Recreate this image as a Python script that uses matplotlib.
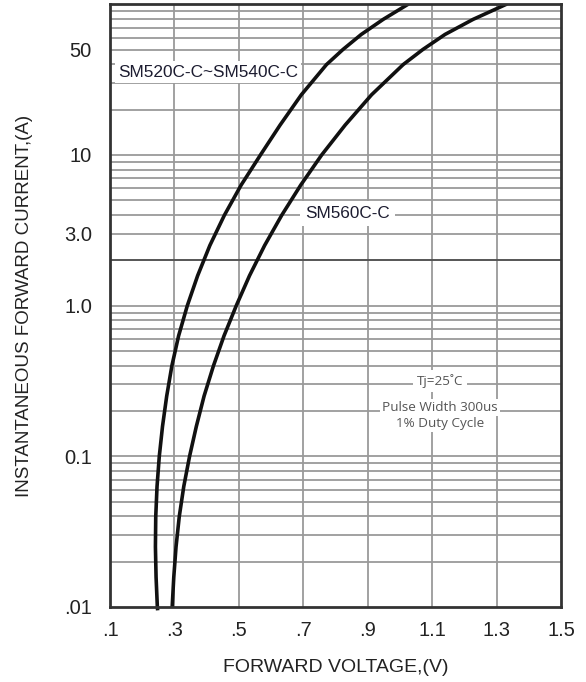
import numpy as np
import matplotlib
matplotlib.use("Agg")
import matplotlib.pyplot as plt
from matplotlib.ticker import FixedLocator, NullFormatter

# ---- data ----
i_levels = [0.0095, 0.01, 0.0158, 0.0251, 0.0398, 0.0631, 0.1, 0.158, 0.251, 0.398, 0.631,
            1.0, 1.58, 2.51, 3.98, 6.31, 10.0, 15.8, 25.1, 39.8, 50.1, 63.1, 79.4, 100.0]

v_sm520_540 = [0.248, 0.247, 0.243, 0.241, 0.242, 0.246, 0.253, 0.263, 0.276, 0.292, 0.313,
               0.340, 0.372, 0.410, 0.455, 0.507, 0.567, 0.628, 0.694, 0.772, 0.823, 0.880,
               0.948, 1.025]

i_sm560 = i_levels[1:]
v_sm560 = [0.293, 0.298, 0.305, 0.315, 0.329, 0.347, 0.368, 0.392, 0.421, 0.454,
           0.492, 0.533, 0.580, 0.633, 0.692, 0.757, 0.830, 0.912, 1.010, 1.071, 1.140,
           1.227, 1.330]

x_ticks = [0.1, 0.3, 0.5, 0.7, 0.9, 1.1, 1.3, 1.5]
x_ticklabels = [".1", ".3", ".5", ".7", ".9", "1.1", "1.3", "1.5"]
y_ticks = [0.01, 0.1, 1.0, 3.0, 10, 50]
y_ticklabels = [".01", "0.1", "1.0", "3.0", "10", "50"]

plt.rcParams['font.family'] = ['Liberation Sans', 'DejaVu Sans']

fig = plt.figure(figsize=(5.86, 6.82), dpi=100)
ax = fig.add_axes([110/586, 1-607/682, 451/586, (607-4.3)/682])
ax.set_yscale('log')
ax.set_xlim(0.1, 1.5)
ax.set_ylim(0.01, 100)

# grid
grid_c = '#9a9a9a'
for x in x_ticks[1:-1]:
    ax.axvline(x, color=grid_c, lw=1.3, zorder=1)
for dec in [0.01, 0.1, 1, 10]:
    for k in range(2, 10):
        val = dec * k
        if abs(val - 2.0) < 1e-9:
            ax.axhline(val, color='#555555', lw=1.4, zorder=1)
        else:
            ax.axhline(val, color=grid_c, lw=1.3, zorder=1)
for val in [0.1, 1, 10]:
    ax.axhline(val, color=grid_c, lw=1.3, zorder=1)

# curves
ax.plot(v_sm520_540[:2], i_levels[:2], color='#111111', lw=2.6, zorder=3,
        clip_on=False, solid_capstyle='butt')
ax.plot(v_sm520_540[1:], i_levels[1:], color='#111111', lw=2.6, zorder=3,
        solid_capstyle='round', solid_joinstyle='round')
ax.plot(v_sm560, i_sm560, color='#111111', lw=2.6, zorder=3,
        solid_capstyle='round', solid_joinstyle='round')

# ticks
ax.xaxis.set_major_locator(FixedLocator(x_ticks))
ax.set_xticklabels(x_ticklabels)
ax.yaxis.set_major_locator(FixedLocator(y_ticks))
ax.yaxis.set_minor_locator(FixedLocator([]))
ax.yaxis.set_minor_formatter(NullFormatter())
ax.set_yticklabels(y_ticklabels)
ax.tick_params(axis='both', length=0, labelsize=14.5, colors='#222222')
ax.tick_params(axis='x', pad=10)
ax.tick_params(axis='y', pad=13)

for s in ax.spines.values():
    s.set_color('#333333')
    s.set_linewidth(2.0)
    s.set_zorder(4)

ax.set_xlabel("FORWARD VOLTAGE,(V)", fontsize=14, color='#222222', labelpad=14)
ax.set_ylabel("INSTANTANEOUS FORWARD CURRENT,(A)", fontsize=13.5, color='#222222', labelpad=22)

# curve labels
ax.text(0.125, 35.5, "SM520C-C~SM540C-C", fontsize=12.4, color='#1c1c30', va='center', ha='left',
        zorder=5, bbox=dict(boxstyle='square,pad=0.2', fc='white', ec='none'))
ax.text(0.705, 4.11, "SM560C-C", fontsize=12.3, color='#1c1c30', va='center', ha='left',
        zorder=5, bbox=dict(boxstyle='square,pad=0.3', fc='white', ec='none'))

# conditions
ac = '#555555'
ax.text(1.1245, 0.316, "Tj=25˚C", fontsize=9.7, color=ac, va='center', ha='center', zorder=5,
        family=['Open Sans', 'DejaVu Sans'],
        bbox=dict(boxstyle='square,pad=0.3', fc='white', ec='none'))
ax.text(1.1245, 0.212, "Pulse Width 300us", fontsize=9.7, color=ac, va='center', ha='center', zorder=5,
        family=['Open Sans', 'DejaVu Sans'],
        bbox=dict(boxstyle='square,pad=0.15', fc='white', ec='none'))
ax.text(1.1245, 0.164, "1% Duty Cycle", fontsize=9.7, color=ac, va='center', ha='center', zorder=5,
        family=['Open Sans', 'DejaVu Sans'],
        bbox=dict(boxstyle='square,pad=0.15', fc='white', ec='none'))

fig.savefig("out.png", dpi=100)
